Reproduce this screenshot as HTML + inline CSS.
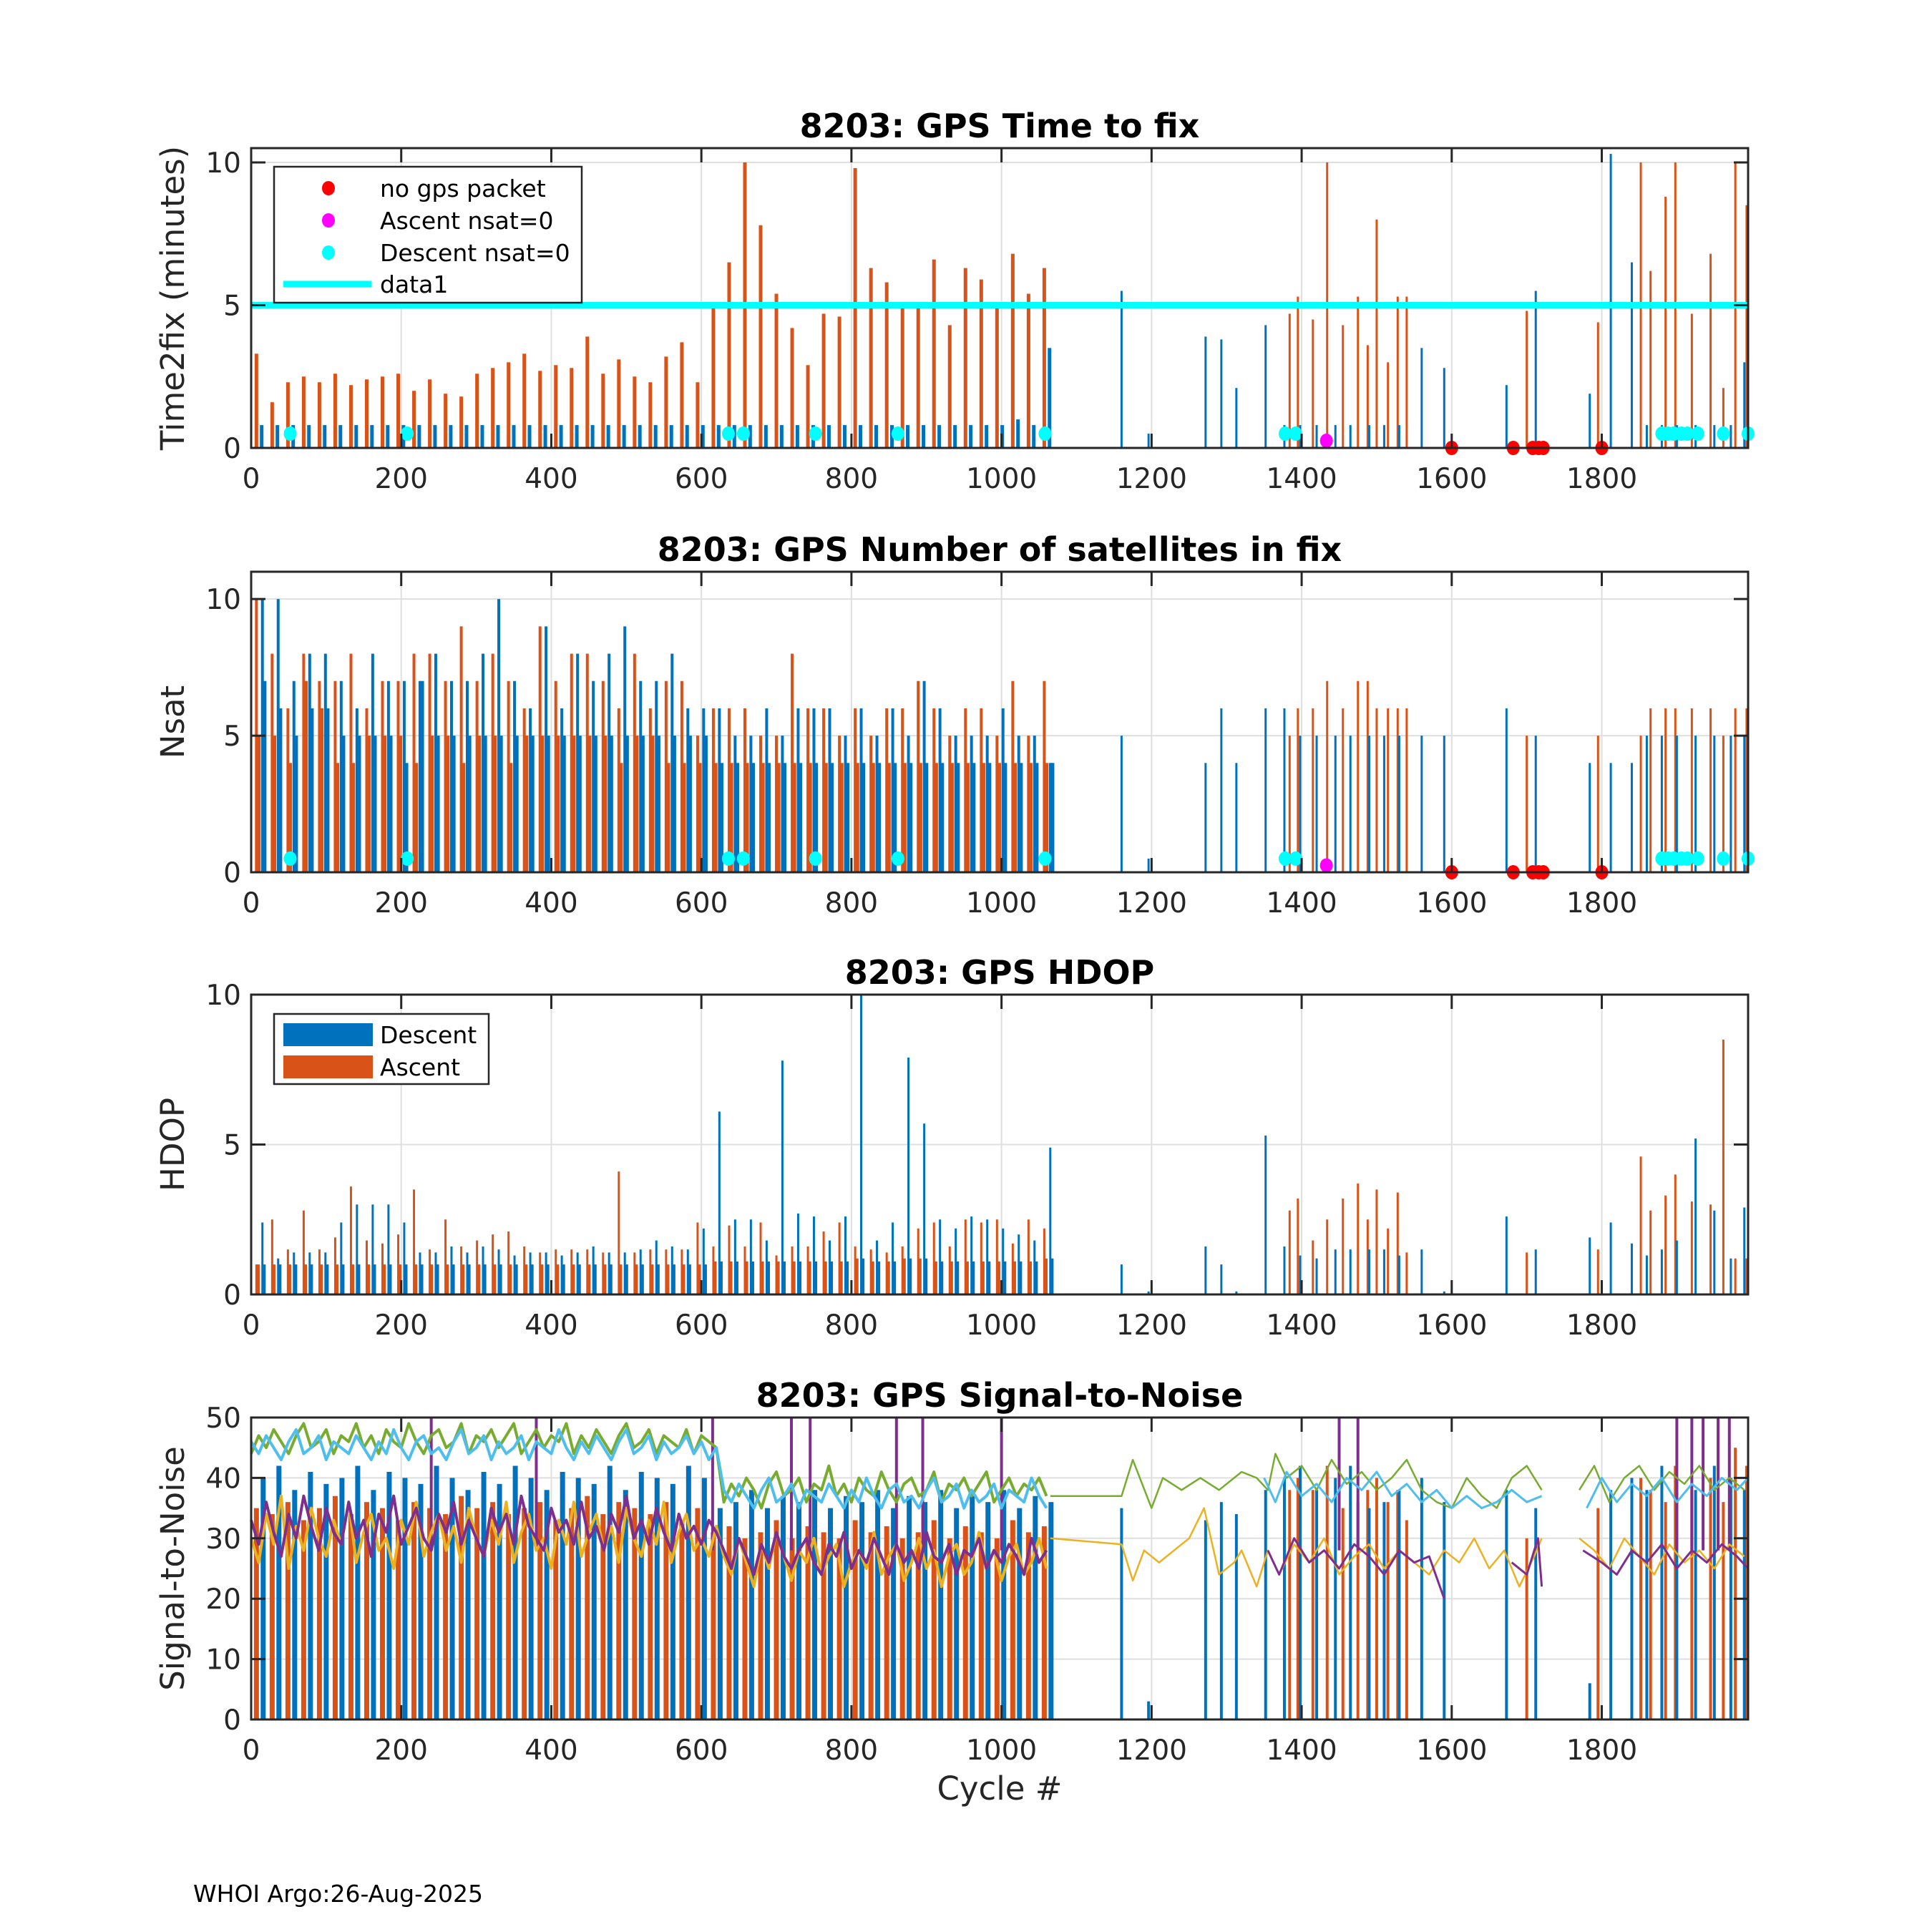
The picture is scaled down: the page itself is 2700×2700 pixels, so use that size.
<!DOCTYPE html>
<html><head><meta charset="utf-8">
<style>
html,body{margin:0;padding:0;background:#fff;}
svg{display:block;font-family:"DejaVu Sans","Liberation Sans",sans-serif;}
</style></head>
<body>
<svg id="fig" width="2700" height="2700" viewBox="0 0 2700 2700" xmlns="http://www.w3.org/2000/svg">
<rect x="0" y="0" width="2700" height="2700" fill="#fff"/>
<text x="270" y="2658" font-size="33" fill="#000">WHOI Argo:26-Aug-2025</text>
</svg>
<script>
// ---- categories ----
const groupCycles = [7,28,49,70,91,112,133,154,175,196,217,238,259,280,301,322,343,364,385,406,427,448,469,490,511,532,553,574,595,616,637,658,679,700,721,742,763,784,805,826,847,868,889,910,931,952,973,994,1015,1036,1057];
const extraDescCycles = [1160,1196,1272,1293,1313,1352,1377,1398,1420,1445,1465,1490,1510,1530,1560,1590,1673,1712,1784,1812,1840,1860,1880,1900,1925,1950,1972,1990];
const extraAscCycles = [1384,1395,1415,1434,1455,1475,1488,1500,1515,1528,1540,1700,1795,1852,1865,1885,1898,1920,1945,1962,1978,1993];
// ---- panel 1: time to fix ----
const ascT2F = [3.3,1.6,2.3,2.5,2.3,2.6,2.2,2.4,2.5,2.6,2.0,2.4,1.9,1.8,2.6,2.8,3.0,3.3,2.7,2.9,2.8,3.9,2.6,3.1,2.5,2.3,3.2,3.7,2.3,5.0,6.5,10.0,7.8,5.4,4.2,2.9,4.7,4.6,9.8,6.3,5.8,4.9,5.0,6.6,4.3,6.3,5.9,4.9,6.8,5.4,6.3];
const descT2F = [0.8,0.8,0.8,0.8,0.8,0.8,0.8,0.8,0.8,0.8,0.8,0.8,0.8,0.8,0.8,0.8,0.8,0.8,0.8,0.8,0.8,0.8,0.8,0.8,0.8,0.8,0.8,0.8,0.8,0.8,0.8,0.8,0.8,0.8,0.8,0.8,0.8,0.8,0.8,0.8,0.8,0.8,0.8,0.8,0.8,0.8,0.8,0.8,1.0,0.8,3.5];
const extraDescT2F = [5.5,0.5,3.9,3.8,2.1,4.3,0.8,0.8,0.8,0.8,0.8,0.8,0.8,0.8,3.5,2.8,2.2,5.5,1.9,10.3,6.5,0.8,0.8,0.8,0.8,0.8,0.8,3.0];
const extraAscT2F = [4.7,5.3,4.5,10.0,4.3,5.3,3.6,8.0,3.0,5.3,5.3,4.8,4.4,10.0,6.2,8.8,10.0,4.7,6.8,2.1,10.0,8.5];
const thresholdT2F = [5];
const cyanDotCycles = [52,208,636,656,752,862,1058,1378,1392,1880,1888,1896,1906,1914,1928,1962,1995];
const redDotCycles = [1600,1682,1708,1716,1722,1800];
const magentaDotCycles = [1433];
// ---- panel 2: nsat ----
const ascNsat = [10,8,6,8,7,7,8,6,7,7,8,8,7,9,7,8,7,6,9,7,8,8,7,6,8,6,7,7,5,6,6,6,5,5,8,6,6,5,6,5,6,6,7,6,5,6,6,5,7,5,7];
const ascNsatLow = [5,5,4,7,6,4,4,5,5,5,4,5,5,4,5,5,4,5,5,5,5,5,5,4,5,5,4,4,4,4,4,4,4,4,4,4,4,4,4,4,4,4,4,4,4,4,4,4,4,4,4];
const descNsat = [10,10,7,8,8,7,6,8,7,7,7,8,7,7,8,10,7,6,9,6,8,7,8,9,7,7,8,6,6,6,5,5,6,5,6,6,6,5,6,5,6,5,7,6,5,5,5,6,5,5,4];
const descNsatLow = [7,6,5,6,6,5,5,5,5,4,7,5,5,5,5,5,5,5,5,5,5,5,5,5,5,5,5,5,5,4,4,4,4,4,4,4,4,4,4,4,4,4,4,4,4,4,4,4,4,4,4];
const extraDescNsat = [5,0.5,4,6,4,6,6,5,5,5,5,5,5,5,5,5,6,5,4,4,4,5,5,5,5,5,5,5];
const extraAscNsat = [5,6,6,7,6,7,7,6,6,6,6,5,5,5,6,6,6,6,6,5,6,6];
// ---- panel 3: hdop ----
const ascHdop = [1.0,2.5,1.5,2.8,1.5,1.9,3.6,1.8,1.7,2.0,3.5,1.5,2.5,1.6,1.8,2.0,2.1,1.6,1.4,1.5,1.5,1.5,1.4,4.1,1.4,1.5,1.5,1.5,2.4,1.6,2.3,1.6,2.4,1.3,1.6,1.6,2.1,2.4,1.6,1.5,1.4,1.6,2.2,2.4,1.6,2.5,2.4,2.5,1.7,2.5,2.2];
const descHdop = [2.4,1.2,1.4,1.4,1.4,2.4,3.0,3.0,3.0,2.4,1.4,1.4,1.6,1.4,1.6,1.5,1.3,1.4,1.4,1.3,1.4,1.6,1.4,1.4,1.5,1.8,1.6,1.5,2.2,6.1,2.5,2.5,1.8,7.8,2.7,2.6,1.8,2.6,10.0,1.8,2.4,7.9,5.7,2.5,2.2,2.6,2.5,2.2,2.0,1.8,4.9];
const baseHdop = [1.0,1.0,1.0,1.0,1.0,1.0,1.0,1.0,1.0,1.0,1.0,1.0,1.0,1.0,1.0,1.0,1.0,1.0,1.0,1.0,1.0,1.0,1.0,1.0,1.0,1.0,1.0,1.0,1.0,1.1,1.1,1.1,1.1,1.1,1.1,1.1,1.1,1.1,1.2,1.1,1.1,1.2,1.2,1.1,1.1,1.1,1.1,1.1,1.1,1.1,1.2];
const extraDescHdop = [1,0.1,1.6,1,0.1,5.3,1.6,1.3,1.2,1.5,1.5,1.5,1.5,1.3,1.5,0.1,2.6,1.5,1.9,2.4,1.7,1.3,1.5,1.8,5.2,2.8,1.2,2.9];
const extraAscHdop = [2.8,3.2,1.8,2.5,3.2,3.7,2.5,3.5,2.2,3.4,1.4,1.4,1.5,4.6,2.8,3.3,4.0,3.1,3.0,8.5,1.2,1.2];
// ---- panel 4: snr bars ----
const ascSnrBar = [35,34,36,33,35,37,34,36,35,33,36,35,34,37,35,36,34,35,36,33,35,37,34,36,35,34,36,33,35,31,32,30,31,33,30,32,31,30,33,31,32,30,31,33,30,32,31,30,33,31,32];
const descSnrBar = [40,42,38,41,39,40,42,38,41,40,39,42,40,38,41,39,42,40,38,41,40,39,42,38,41,40,39,42,40,35,36,38,35,37,36,38,35,37,36,38,35,37,36,38,35,37,36,38,35,37,36];
const extraDescSnr = [35,3,33,36,34,38,40,42,38,40,42,35,36,38,40,36,38,35,6,38,40,38,42,40,38,42,40,38];
const extraAscSnr = [38,40,38,42,35,36,38,40,36,38,33,30,35,40,38,36,42,38,40,36,45,42];
// ---- panel 4: snr lines ----
const snrCycles = [0,10,20,30,40,50,60,70,80,90,100,110,120,130,140,150,160,170,180,190,200,210,220,230,240,250,260,270,280,290,300,310,320,330,340,350,360,370,380,390,400,410,420,430,440,450,460,470,480,490,500,510,520,530,540,550,560,570,580,590,600,610,620,630,640,650,660,670,680,690,700,710,720,730,740,750,760,770,780,790,800,810,820,830,840,850,860,870,880,890,900,910,920,930,940,950,960,970,980,990,1000,1010,1020,1030,1040,1050,1060];
const snrGreen = [44,47,45,48,46,44,47,49,45,46,48,44,47,46,49,45,47,44,48,46,45,49,46,44,47,48,45,46,49,44,47,46,48,45,47,49,44,46,48,45,47,46,49,44,47,45,48,46,44,47,49,45,46,48,44,47,46,45,48,44,47,46,45,
36,39,37,40,38,35,39,41,37,38,40,36,39,38,42,37,39,36,40,38,37,41,38,36,39,40,37,38,41,36,39,38,40,37,39,41,36,38,40,37,39,38,40,37];
const snrLightBlue = [46,44,47,45,43,46,48,44,45,47,43,46,45,44,47,45,43,46,44,48,45,43,46,47,44,45,43,46,48,44,45,47,43,46,44,45,47,43,46,45,44,48,45,43,46,44,47,45,43,46,48,44,45,47,43,46,44,45,47,44,46,43,45,
38,36,39,37,35,38,40,36,37,39,35,38,37,36,39,37,35,38,36,40,37,35,38,39,36,37,35,38,40,36,37,39,35,38,36,37,39,35,38,37,36,40,37,35];
const snrYellow = [30,26,34,29,37,25,32,28,35,30,27,33,29,36,26,31,34,28,30,25,33,29,36,27,31,34,28,32,26,35,30,27,33,29,36,26,31,34,28,30,25,33,29,36,27,31,34,28,32,26,35,30,27,33,29,36,26,31,34,28,30,27,32,
27,24,30,26,22,29,25,31,27,23,28,26,30,24,27,29,22,26,28,25,31,24,27,29,23,26,30,25,28,22,27,29,24,26,31,25,28,23,27,29,24,26,30,25];
const snrPurple = [33,29,36,31,27,34,30,37,32,28,35,31,29,36,30,33,27,34,31,37,29,32,35,30,28,34,31,36,29,33,30,27,35,31,34,29,37,32,30,28,35,31,33,29,36,30,32,28,34,31,37,30,33,29,35,31,28,34,30,32,29,33,31,
28,25,30,27,24,29,26,31,27,25,28,30,26,24,29,27,31,25,28,26,30,27,24,29,26,28,25,31,27,26,29,24,28,27,30,25,28,26,29,27,24,30,26,28];
const lateGreenCycles = [1065,1160,1175,1200,1215,1240,1265,1290,1300,1320,1340,1355,1365,1380,1400,1420,1440,1460,1480,1500,1520,1540,1560,1580,1600,1620,1640,1660,1680,1700,1720,null,1770,1790,1810,1830,1850,1870,1890,1910,1930,1950,1970,1990];
const lateGreen = [37,37,43,35,40,38,40,38,39,41,40,38,44,40,42,38,43,39,41,38,40,43,38,36,35,40,37,35,40,42,38,null,38,42,36,40,42,38,41,39,42,38,40,38];
const lateLightBlueCycles = [1350,1365,1380,1400,1420,1440,1460,1480,1500,1520,1540,1560,1580,1600,1620,1640,1660,1680,1700,1720,null,1780,1800,1820,1840,1860,1880,1900,1920,1940,1960,1980,1995];
const lateLightBlue = [40,36,41,37,39,36,40,38,41,37,39,36,38,35,37,35,36,38,36,37,null,35,40,36,39,37,40,36,39,37,40,38,40];
const lateYellowCycles = [1065,1160,1175,1190,1210,1230,1250,1270,1290,1310,1320,1340,1355,1370,1390,1410,1430,1450,1470,1490,1510,1530,1550,1570,1590,1610,1630,1650,1670,1690,1710,1720,null,1770,1790,1810,1830,1850,1870,1890,1910,1930,1950,1970,1990];
const lateYellow = [30,29,23,28,26,28,30,35,24,26,28,22,28,24,29,26,30,24,27,29,25,28,26,24,28,26,30,25,28,22,27,30,null,30,28,25,30,27,24,29,26,28,25,29,27];
const latePurpleCycles = [1355,1370,1390,1410,1430,1450,1470,1490,1510,1530,1550,1570,1590,null,1680,1700,1715,1720,null,1775,1800,1820,1840,1860,1880,1900,1920,1940,1960,1980,1995];
const latePurple = [28,24,30,26,28,25,29,27,24,28,26,27,20,null,26,24,30,22,null,28,26,24,28,26,29,25,28,26,29,27,25];
const purpleSpikeCycles = [240,380,615,720,745,860,895,1000,1450,1475,1900,1920,1935,1955,1970];
const xTicks = [0,200,400,600,800,1000,1200,1400,1600,1800];

// ---- layout ----
const NS = 'http://www.w3.org/2000/svg';
const svg = document.getElementById('fig');
const X0 = 351, X1 = 2443, XMAX = 1995;
const C = {blue:'#0072BD',orange:'#D95319',yellow:'#EDB120',purple:'#7E2F8E',green:'#77AC30',lblue:'#4DBEEE'};
function el(tag, attrs, parent){const e=document.createElementNS(NS,tag);for(const k in attrs)e.setAttribute(k,attrs[k]);(parent||svg).appendChild(e);return e;}
function xs(c){return X0+(c/XMAX)*(X1-X0);}
const panels = [
 {top:207,bot:626,ymax:10.5,yt:[0,5,10],title:'8203: GPS Time to fix',ylabel:'Time2fix (minutes)',name:'time-to-fix'},
 {top:799,bot:1219,ymax:11,yt:[0,5,10],title:'8203: GPS Number of satellites in fix',ylabel:'Nsat',name:'nsat'},
 {top:1390,bot:1809,ymax:10,yt:[0,5,10],title:'8203: GPS HDOP',ylabel:'HDOP',name:'hdop'},
 {top:1981,bot:2403,ymax:50,yt:[0,10,20,30,40,50],title:'8203: GPS Signal-to-Noise',ylabel:'Signal-to-Noise',name:'snr'}
];
function ysf(p){return v=>p.bot-(v/p.ymax)*(p.bot-p.top);}

function bars(g,p,cycles,vals,color,w,nm){
  const ys=ysf(p);
  for(let i=0;i<Math.min(cycles.length,vals.length);i++){
    const y=ys(vals[i]);
    const r=el('rect',{x:xs(cycles[i])-w/2,y:y,width:w,height:p.bot-y,fill:color},g);
    
    
  }
}
function offset(arr,d){return arr.map(c=>c+d);}
function line(g,p,cycles,vals,color,sw,nm){
  const ys=ysf(p);let d='';let pen=false;
  for(let i=0;i<cycles.length;i++){
    if(cycles[i]===null||vals[i]===null){pen=false;continue;}
    d+=(pen?'L':'M')+xs(cycles[i]).toFixed(1)+' '+ys(vals[i]).toFixed(1);pen=true;
  }
  const pa=el('path',{d:d,fill:'none',stroke:color,'stroke-width':sw,'stroke-linejoin':'round'},g);
  
  
}
function dots(g,p,cycles,val,color,nm){
  const ys=ysf(p);
  cycles.forEach(c=>{
    const d=el('ellipse',{cx:xs(c),cy:ys(val),rx:9,ry:10,fill:color},g);
    
    
  });
}

panels.forEach((p,pi)=>{
  const g=el('g',{});
  
  
  const ys=ysf(p);
  xTicks.forEach(t=>{const l=el('line',{x1:xs(t),x2:xs(t),y1:p.top,y2:p.bot,stroke:'#dfdfdf','stroke-width':2},g);
    });
  p.yt.forEach(t=>{const l=el('line',{x1:X0,x2:X1,y1:ys(t),y2:ys(t),stroke:'#dfdfdf','stroke-width':2},g);
    });
  const dg=el('g',{},g);
  
  
  if(pi===0){
    bars(dg,p,groupCycles,ascT2F,C.orange,5,'ascent-bar');
    bars(dg,p,offset(groupCycles,7),descT2F,C.blue,5,'descent-bar');
    bars(dg,p,extraAscCycles,extraAscT2F,C.orange,3,'ascent-bar');
    bars(dg,p,extraDescCycles,extraDescT2F,C.blue,3,'descent-bar');
    const tl=el('line',{x1:X0,x2:X1,y1:ys(thresholdT2F[0]),y2:ys(thresholdT2F[0]),stroke:'#00FFFF','stroke-width':9},dg);
    
    dots(dg,p,cyanDotCycles,0.5,'#00FFFF','descent-nsat0-dot');
    dots(dg,p,redDotCycles,0,'#FF0000','no-gps-packet-dot');
    dots(dg,p,magentaDotCycles,0.25,'#FF00FF','ascent-nsat0-dot');
  } else if(pi===1){
    bars(dg,p,groupCycles,ascNsat,C.orange,4,'ascent-bar');
    bars(dg,p,offset(groupCycles,3),ascNsatLow,C.orange,5,'ascent-bar');
    bars(dg,p,offset(groupCycles,8),descNsat,C.blue,4,'descent-bar');
    bars(dg,p,offset(groupCycles,11),descNsatLow,C.blue,5,'descent-bar');
    bars(dg,p,extraAscCycles,extraAscNsat,C.orange,3,'ascent-bar');
    bars(dg,p,extraDescCycles,extraDescNsat,C.blue,3,'descent-bar');
    dots(dg,p,cyanDotCycles,0.5,'#00FFFF','descent-nsat0-dot');
    dots(dg,p,redDotCycles,0,'#FF0000','no-gps-packet-dot');
    dots(dg,p,magentaDotCycles,0.25,'#FF00FF','ascent-nsat0-dot');
  } else if(pi===2){
    bars(dg,p,groupCycles,ascHdop,C.orange,3,'ascent-bar');
    bars(dg,p,offset(groupCycles,2),baseHdop,C.orange,5,'ascent-bar');
    bars(dg,p,offset(groupCycles,8),descHdop,C.blue,3,'descent-bar');
    bars(dg,p,offset(groupCycles,10),baseHdop,C.blue,5,'descent-bar');
    bars(dg,p,extraAscCycles,extraAscHdop,C.orange,3,'ascent-bar');
    bars(dg,p,extraDescCycles,extraDescHdop,C.blue,3,'descent-bar');
  } else {
    bars(dg,p,groupCycles,ascSnrBar,C.orange,7,'ascent-snr-bar');
    bars(dg,p,offset(groupCycles,9),descSnrBar,C.blue,7,'descent-snr-bar');
    bars(dg,p,extraAscCycles,extraAscSnr,C.orange,4,'ascent-snr-bar');
    bars(dg,p,extraDescCycles,extraDescSnr,C.blue,4,'descent-snr-bar');
    const ysp=ysf(p);
    purpleSpikeCycles.forEach(c=>{const l=el('line',{x1:xs(c),x2:xs(c),y1:ysp(28),y2:ysp(50),stroke:C.purple,'stroke-width':4},dg);
      });
    line(dg,p,snrCycles,snrGreen,C.green,4,'snr-green-line');
    line(dg,p,lateGreenCycles,lateGreen,C.green,2.5,'snr-green-line');
    line(dg,p,snrCycles,snrYellow,C.yellow,4,'snr-yellow-line');
    line(dg,p,lateYellowCycles,lateYellow,C.yellow,2.5,'snr-yellow-line');
    line(dg,p,snrCycles,snrPurple,C.purple,4,'snr-purple-line');
    line(dg,p,latePurpleCycles,latePurple,C.purple,3,'snr-purple-line');
    line(dg,p,snrCycles,snrLightBlue,C.lblue,4,'snr-lightblue-line');
    line(dg,p,lateLightBlueCycles,lateLightBlue,C.lblue,3,'snr-lightblue-line');
  }
  const bx=el('rect',{x:X0,y:p.top,width:X1-X0,height:p.bot-p.top,fill:'none',stroke:'#262626','stroke-width':3},g);
  
  xTicks.forEach(t=>{
    el('line',{x1:xs(t),x2:xs(t),y1:p.bot,y2:p.bot-20,stroke:'#262626','stroke-width':3},g);
    el('line',{x1:xs(t),x2:xs(t),y1:p.top,y2:p.top+20,stroke:'#262626','stroke-width':3},g);
    const tx=el('text',{x:xs(t),y:p.bot+56,'font-size':39,'text-anchor':'middle',fill:'#262626'},g);
    tx.textContent=t;
    
  });
  p.yt.forEach(t=>{
    el('line',{x1:X0,x2:X0+20,y1:ys(t),y2:ys(t),stroke:'#262626','stroke-width':3},g);
    el('line',{x1:X1,x2:X1-20,y1:ys(t),y2:ys(t),stroke:'#262626','stroke-width':3},g);
    const tx=el('text',{x:X0-14,y:ys(t)+14,'font-size':39,'text-anchor':'end',fill:'#262626'},g);
    tx.textContent=t;
    
  });
  const tt=el('text',{x:(X0+X1)/2,y:p.top-15,'font-size':46,'font-weight':'bold','text-anchor':'middle',fill:'#000'},g);
  tt.textContent=p.title;
  
  const cy=(p.top+p.bot)/2;
  const yl=el('text',{x:0,y:0,'font-size':45,'text-anchor':'middle',fill:'#262626',transform:`translate(257 ${cy}) rotate(-90)`},g);
  yl.textContent=p.ylabel;
  
});

const xl=el('text',{x:(X0+X1)/2,y:2515,'font-size':45,'text-anchor':'middle',fill:'#262626'});
xl.textContent='Cycle #';


const lg=el('g',{});

el('rect',{x:383,y:233,width:430,height:190,fill:'#fff',stroke:'#262626','stroke-width':2.5},lg);
const l1=[['no gps packet','#FF0000',263],['Ascent nsat=0','#FF00FF',308],['Descent nsat=0','#00FFFF',353]];
l1.forEach(([t,c,y])=>{
  const d=el('ellipse',{cx:459,cy:y,rx:9,ry:10,fill:c},lg);
  
  const tx=el('text',{x:531,y:y+12,'font-size':33,fill:'#000'},lg);tx.textContent=t;
  
});
el('line',{x1:396,x2:519,y1:397,y2:397,stroke:'#00FFFF','stroke-width':9},lg);
const dt=el('text',{x:531,y:409,'font-size':33,fill:'#000'},lg);dt.textContent='data1';


const lg3=el('g',{});

el('rect',{x:383,y:1417,width:300,height:98,fill:'#fff',stroke:'#262626','stroke-width':2.5},lg3);
el('rect',{x:396,y:1430,width:125,height:32,fill:C.blue},lg3);
el('rect',{x:396,y:1475,width:125,height:32,fill:C.orange},lg3);
const t31=el('text',{x:531,y:1458,'font-size':33,fill:'#000'},lg3);t31.textContent='Descent';

const t32=el('text',{x:531,y:1503,'font-size':33,fill:'#000'},lg3);t32.textContent='Ascent';

</script>
</body></html>
